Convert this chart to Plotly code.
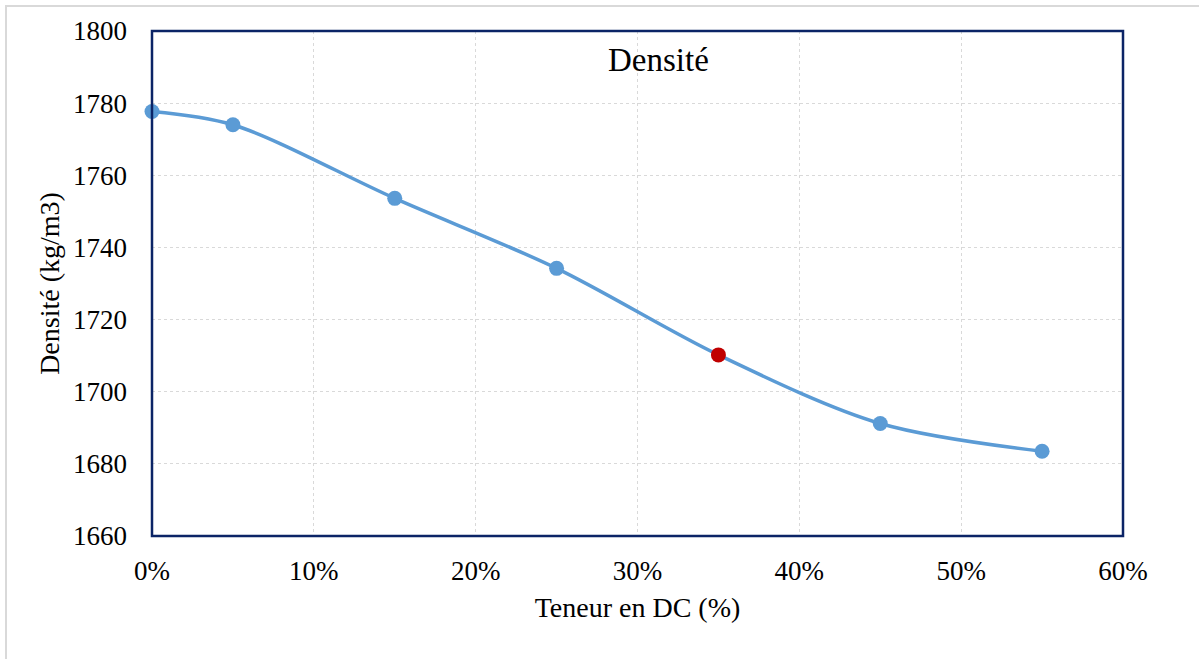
import plotly.graph_objects as go

# Dune content (fraction) and measured density
teneur = [0.00, 0.05, 0.15, 0.25, 0.35, 0.45, 0.55]
densite = [1777.7, 1774.0, 1753.6, 1734.2, 1710.2, 1691.2, 1683.5]
highlight_index = 4

x_ticks = [0.0, 0.1, 0.2, 0.3, 0.4, 0.5, 0.6]
x_tick_labels = ["0%", "10%", "20%", "30%", "40%", "50%", "60%"]
y_ticks = [1660, 1680, 1700, 1720, 1740, 1760, 1780, 1800]

line_color = "#5B9BD5"
point_colors = [line_color] * len(teneur)
point_colors[highlight_index] = "#C00000"

serif = "Times New Roman, Liberation Serif, serif"

fig = go.Figure()
fig.add_trace(go.Scatter(
    x=teneur, y=densite,
    mode="lines+markers",
    line=dict(color=line_color, width=3.5, shape="spline", smoothing=0.9),
    marker=dict(color=point_colors, size=15, line=dict(width=0)),
    cliponaxis=False,
    showlegend=False,
))

fig.update_layout(
    width=1199, height=659,
    margin=dict(l=152, r=76, t=31, b=123),
    paper_bgcolor="white",
    plot_bgcolor="white",
    font=dict(family=serif, size=27, color="black"),
    annotations=[dict(
        text="Densité", x=0.522, y=0.942, xref="paper", yref="paper",
        xanchor="center", yanchor="middle", showarrow=False,
        font=dict(family=serif, size=33, color="black"),
    )],
    shapes=[
        dict(type="rect", xref="paper", yref="paper",
             x0=-146 / 971, x1=1 + 120 / 971, y0=-180 / 505, y1=1 + 25 / 505,
             line=dict(color="#D9D9D9", width=2), layer="below"),
        dict(type="rect", xref="paper", yref="paper",
             x0=0, x1=1, y0=0, y1=1,
             line=dict(color="#0B2466", width=2.5), layer="above"),
    ],
)

fig.update_xaxes(
    range=[0, 0.6], tickvals=x_ticks, ticktext=x_tick_labels,
    showgrid=True, gridcolor="#D9D9D9", griddash="dot", gridwidth=1,
    zeroline=False, showline=False, ticks="", ticklabelstandoff=16,
    title=dict(text="Teneur en DC (%)", standoff=12,
               font=dict(family=serif, size=28)),
)
fig.update_yaxes(
    range=[1660, 1800], tickvals=y_ticks,
    showgrid=True, gridcolor="#D9D9D9", griddash="dot", gridwidth=1,
    zeroline=False, showline=False, ticks="", ticklabelstandoff=24,
    title=dict(text="Densité (kg/m3)", standoff=5,
               font=dict(family=serif, size=28)),
)

fig.write_html("out.html")
